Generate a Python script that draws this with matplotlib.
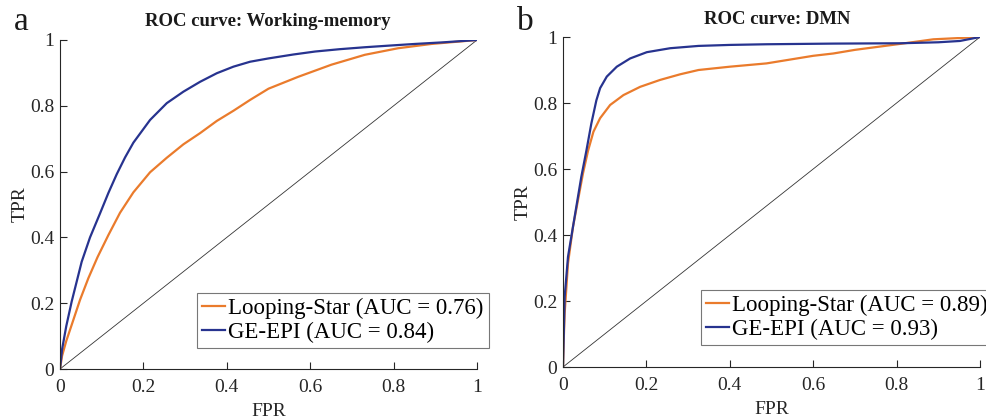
import matplotlib
matplotlib.use('Agg')
import matplotlib.pyplot as plt

plt.rcParams['font.family'] = ['Liberation Serif', 'DejaVu Serif']

# Working-memory ROC
wm_epi_fpr = [0, 0.005, 0.015, 0.028, 0.052, 0.072, 0.096, 0.116, 0.136, 0.156, 0.176,
              0.216, 0.256, 0.296, 0.336, 0.376, 0.416, 0.456, 0.5, 0.56, 0.612, 0.67,
              0.731, 0.79, 0.851, 0.92, 1.0]
wm_epi_tpr = [0, 0.06, 0.13, 0.205, 0.326, 0.40, 0.473, 0.535, 0.592, 0.643, 0.688,
              0.757, 0.808, 0.843, 0.873, 0.899, 0.919, 0.934, 0.944, 0.956, 0.965, 0.972,
              0.978, 0.983, 0.988, 0.993, 1.0]
wm_ls_fpr = [0, 0.005, 0.015, 0.028, 0.048, 0.068, 0.09, 0.116, 0.144, 0.176, 0.216,
             0.256, 0.296, 0.336, 0.376, 0.416, 0.456, 0.5, 0.571, 0.651, 0.731, 0.811,
             0.891, 1.0]
wm_ls_tpr = [0, 0.04, 0.085, 0.134, 0.21, 0.276, 0.34, 0.407, 0.475, 0.537, 0.598,
             0.642, 0.683, 0.717, 0.754, 0.785, 0.818, 0.852, 0.888, 0.925, 0.955, 0.975,
             0.988, 1.0]

# DMN ROC
dmn_epi_fpr = [0, 0.004, 0.012, 0.020, 0.032, 0.044, 0.056, 0.068, 0.080, 0.089, 0.105,
               0.129, 0.161, 0.201, 0.257, 0.325, 0.40, 0.488, 0.648, 0.808, 0.90, 0.952,
               1.0]
dmn_epi_tpr = [0, 0.213, 0.334, 0.395, 0.486, 0.577, 0.655, 0.738, 0.808, 0.845, 0.880,
               0.910, 0.935, 0.954, 0.966, 0.973, 0.976, 0.978, 0.980, 0.981, 0.984, 0.988,
               1.0]
dmn_ls_fpr = [0, 0.002, 0.004, 0.012, 0.024, 0.036, 0.048, 0.060, 0.073, 0.089, 0.113,
              0.145, 0.185, 0.233, 0.281, 0.325, 0.40, 0.488, 0.600, 0.648, 0.700, 0.808,
              0.888, 1.0]
dmn_ls_tpr = [0, 0.09, 0.163, 0.314, 0.425, 0.506, 0.587, 0.655, 0.713, 0.754, 0.794,
              0.824, 0.849, 0.870, 0.887, 0.900, 0.910, 0.920, 0.943, 0.950, 0.961, 0.979,
              0.993, 1.0]

ticks = [0, 0.2, 0.4, 0.6, 0.8, 1]
tick_labels = ['0', '0.2', '0.4', '0.6', '0.8', '1']

c_ls = '#EA7B2C'
c_epi = '#27338F'

W, H = 987, 419
fig = plt.figure(figsize=(W / 100, H / 100), dpi=100)


def px_box(x0, y0, x1, y1):
    # pixel box (left, top, right, bottom) -> figure fraction rect
    return [x0 / W, 1 - y1 / H, (x1 - x0) / W, (y1 - y0) / H]


panels = [
    dict(rect=px_box(60, 40, 477, 369), title='ROC curve: Working-memory', tx=268, ty=22,
         letter='a', lx=21, ly=22, leg=(197, 293),
         ls=(wm_ls_fpr, wm_ls_tpr), epi=(wm_epi_fpr, wm_epi_tpr),
         auc_ls='0.76', auc_epi='0.84'),
    dict(rect=px_box(563, 37, 980, 367), title='ROC curve: DMN', tx=777, ty=20,
         letter='b', lx=525, ly=22, leg=(701, 290),
         ls=(dmn_ls_fpr, dmn_ls_tpr), epi=(dmn_epi_fpr, dmn_epi_tpr),
         auc_ls='0.89', auc_epi='0.93'),
]

for p in panels:
    ax = fig.add_axes(p['rect'])
    ax.plot([0, 1], [0, 1], color='#333333', lw=0.6)
    l1, = ax.plot(p['ls'][0], p['ls'][1], color=c_ls, lw=1.6,
                  label='Looping-Star (AUC = %s)' % p['auc_ls'])
    l2, = ax.plot(p['epi'][0], p['epi'][1], color=c_epi, lw=1.6,
                  label='GE-EPI (AUC = %s)' % p['auc_epi'])
    ax.set_xlim(0, 1)
    ax.set_ylim(0, 1)
    ax.set_xticks(ticks)
    ax.set_xticklabels(tick_labels)
    ax.set_yticks(ticks)
    ax.set_yticklabels(tick_labels)
    ax.tick_params(direction='in', length=5, width=0.8, labelsize=14,
                   colors='#262626')
    ax.tick_params(axis='x', pad=7)
    ax.tick_params(axis='y', pad=4)
    for s in ['top', 'right']:
        ax.spines[s].set_visible(False)
    for s in ['left', 'bottom']:
        ax.spines[s].set_color('#262626')
        ax.spines[s].set_linewidth(0.8)
    ax.set_xlabel('FPR', fontsize=14, color='#262626', labelpad=5)
    ax.set_ylabel('TPR', fontsize=14, color='#262626', labelpad=1)

    fig.text(p['tx'] / W, 1 - p['ty'] / H, p['title'], fontsize=13.5, fontweight='bold',
             ha='center', va='center', color='#1a1a1a')
    fig.text(p['lx'] / W, 1 - p['ly'] / H, p['letter'], fontsize=24,
             ha='center', va='center', color='#1a1a1a')

    leg = ax.legend(handles=[l1, l2], loc='upper left',
                    bbox_to_anchor=(p['leg'][0] / W, 1 - p['leg'][1] / H),
                    bbox_transform=fig.transFigure, fontsize=16.5, frameon=True,
                    fancybox=False, handlelength=1.0, handletextpad=0.15,
                    borderpad=0.22, labelspacing=0.12, borderaxespad=0)
    leg.get_frame().set_edgecolor('#555555')
    leg.get_frame().set_linewidth(0.8)

fig.savefig('out.png', dpi=100)
